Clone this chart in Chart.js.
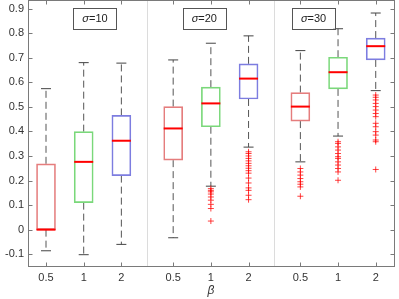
<!DOCTYPE html>
<html>
<head>
<meta charset="utf-8">
<script src="https://cdn.jsdelivr.net/npm/chart.js@4"></script>
<style>
  html, body { margin: 0; padding: 0; background: #fff; }
  #wrap { width: 399px; height: 299px; }
</style>
</head>
<body>
<div id="wrap"><canvas id="boxChart"></canvas></div>
<script>
// box positions on the x axis, three groups of beta values
const positions = [1, 2, 3, 4.375, 5.375, 6.375, 7.75, 8.75, 9.75];
const betaLabels = ['0.5', '1', '2', '0.5', '1', '2', '0.5', '1', '2'];
const sigmaLabels = ['σ=10', 'σ=20', 'σ=30'];
const sigmaLabelX = [2.3, 5.2, 8.1];
const separatorX = [3.6875, 7.0625];

const yTicks = [-0.1, 0, 0.1, 0.2, 0.3, 0.4, 0.5, 0.6, 0.7, 0.8, 0.9];
const yTickLabels = ['-0.1', '0', '0.1', '0.2', '0.3', '0.4', '0.5', '0.6', '0.7', '0.8', '0.9'];

const upperWhisker = [0.574, 0.680, 0.678, 0.691, 0.759, 0.789, 0.729, 0.818, 0.882];
const q3 = [0.268, 0.399, 0.465, 0.501, 0.580, 0.675, 0.558, 0.702, 0.780];
const medians = [0.000, 0.276, 0.362, 0.412, 0.514, 0.615, 0.501, 0.641, 0.747];
const q1 = [0.000, 0.110, 0.220, 0.283, 0.419, 0.532, 0.442, 0.573, 0.691];
const lowerWhisker = [-0.086, -0.102, -0.060, -0.033, 0.177, 0.336, 0.276, 0.381, 0.566];

const outliers = [
    [],
    [],
    [],
    [],
    [0.167, 0.160, 0.154, 0.145, 0.133, 0.120, 0.103, 0.086, 0.035],
    [0.317, 0.310, 0.300, 0.290, 0.280, 0.270, 0.260, 0.250, 0.240, 0.230, 0.210, 0.190, 0.170, 0.160, 0.140, 0.122],
    [0.249, 0.235, 0.222, 0.208, 0.195, 0.185, 0.174, 0.136],
    [0.358, 0.351, 0.337, 0.324, 0.310, 0.297, 0.290, 0.276, 0.263, 0.249, 0.235, 0.201],
    [0.548, 0.539, 0.528, 0.514, 0.501, 0.487, 0.473, 0.460, 0.433, 0.419, 0.399, 0.385, 0.365, 0.358, 0.245]
];

const boxColors = ['#e57d7d', '#7ad87a', '#7d7de0'];

const FONT = '"Liberation Sans", Arial, sans-serif';
const AXIS_COLOR = '#7a7a7a';

// whiskers: q3 -> upper, q1 -> lower, broken with nulls
const whiskerPoints = [];
positions.forEach((p, i) => {
    whiskerPoints.push({ x: p, y: q3[i] }, { x: p, y: upperWhisker[i] }, { x: p, y: null });
    whiskerPoints.push({ x: p, y: q1[i] }, { x: p, y: lowerWhisker[i] }, { x: p, y: null });
});

const capPoints = [];
positions.forEach((p, i) => {
    capPoints.push({ x: p, y: upperWhisker[i] }, { x: p, y: lowerWhisker[i] });
});

const outlierPoints = [];
positions.forEach((p, i) => {
    outliers[i].forEach(v => outlierPoints.push({ x: p, y: v }));
});

// axes box, inward ticks, group separators and sigma labels
const decorPlugin = {
    id: 'decor',
    beforeDatasetsDraw(chart) {
        const { ctx, chartArea: a, scales: { x } } = chart;
        ctx.save();
        ctx.strokeStyle = '#dcdcdc';
        ctx.lineWidth = 1;
        separatorX.forEach(v => {
            const px = Math.round(x.getPixelForValue(v)) + 0.5;
            ctx.beginPath();
            ctx.moveTo(px, a.top);
            ctx.lineTo(px, a.bottom);
            ctx.stroke();
        });
        ctx.restore();
    },
    afterDraw(chart) {
        const { ctx, chartArea: a, scales: { x, y } } = chart;
        ctx.save();
        ctx.strokeStyle = AXIS_COLOR;
        ctx.lineWidth = 1;
        const L = Math.round(a.left) + 0.5, R = Math.round(a.right) + 0.5;
        const T = Math.round(a.top) + 0.5, B = Math.round(a.bottom) + 0.5;
        ctx.strokeRect(L, T, R - L, B - T);

        const tl = 4;
        ctx.beginPath();
        yTicks.forEach(v => {
            const py = Math.round(y.getPixelForValue(v)) + 0.5;
            ctx.moveTo(L, py); ctx.lineTo(L + tl, py);
            ctx.moveTo(R, py); ctx.lineTo(R - tl, py);
        });
        positions.forEach(v => {
            const px = Math.round(x.getPixelForValue(v)) + 0.5;
            ctx.moveTo(px, B); ctx.lineTo(px, B - tl);
            ctx.moveTo(px, T); ctx.lineTo(px, T + tl);
        });
        ctx.stroke();

        // sigma text boxes
        sigmaLabels.forEach((label, i) => {
            const cx = x.getPixelForValue(sigmaLabelX[i]);
            const cy = y.getPixelForValue(0.861);
            const w = 43, h = 21;
            ctx.fillStyle = '#fff';
            ctx.fillRect(cx - w / 2, cy - h / 2, w, h);
            ctx.strokeStyle = '#555';
            ctx.strokeRect(Math.round(cx - w / 2) + 0.5, Math.round(cy - h / 2) + 0.5, w, h);
            const sym = label.slice(0, 1);
            const rest = label.slice(1);
            ctx.fillStyle = '#222';
            ctx.textBaseline = 'middle';
            ctx.font = 'italic 11px ' + FONT;
            const w1 = ctx.measureText(sym).width;
            ctx.font = '11px ' + FONT;
            const w2 = ctx.measureText(rest).width;
            const sx = cx - (w1 + w2) / 2;
            ctx.font = 'italic 11px ' + FONT;
            ctx.textAlign = 'left';
            ctx.fillText(sym, sx, cy + 0.5);
            ctx.font = '11px ' + FONT;
            ctx.fillText(rest, sx + w1, cy + 0.5);
        });
        ctx.restore();
    }
};

const ctx = document.getElementById('boxChart').getContext('2d');

new Chart(ctx, {
    type: 'bar',
    data: {
        datasets: [
            {
                type: 'line',
                label: 'whiskers',
                data: whiskerPoints,
                borderColor: '#555',
                borderWidth: 1,
                borderDash: [7, 4],
                pointRadius: 0,
                spanGaps: false,
                order: 5
            },
            {
                type: 'bar',
                label: 'boxes',
                data: positions.map((p, i) => ({ x: p, y: [q1[i], q3[i]] })),
                backgroundColor: 'rgba(255,255,255,0)',
                borderColor: positions.map((p, i) => boxColors[i % 3]),
                borderWidth: 1,
                borderSkipped: false,
                barThickness: 19,
                grouped: false,
                order: 4
            },
            {
                type: 'scatter',
                label: 'caps',
                data: capPoints,
                pointStyle: 'line',
                pointRadius: 5,
                pointBorderColor: '#444',
                pointBorderWidth: 1,
                order: 3
            },
            {
                type: 'scatter',
                label: 'medians',
                data: positions.map((p, i) => ({ x: p, y: medians[i] })),
                pointStyle: 'line',
                pointRadius: 9.5,
                pointBorderColor: '#ff0000',
                pointBorderWidth: 2,
                order: 2
            },
            {
                type: 'scatter',
                label: 'outliers',
                data: outlierPoints,
                pointStyle: 'cross',
                pointRadius: 3,
                pointBorderColor: 'rgba(255,0,0,0.75)',
                pointBorderWidth: 1,
                order: 1
            }
        ]
    },
    options: {
        responsive: true,
        maintainAspectRatio: false,
        animation: false,
        layout: { autoPadding: false, padding: { top: 0, right: 5, left: 0, bottom: 0 } },
        plugins: {
            legend: { display: false },
            tooltip: { enabled: false }
        },
        scales: {
            x: {
                type: 'linear',
                min: 0.522,
                max: 10.235,
                offset: false,
                grid: { display: false, drawTicks: false },
                border: { display: false },
                afterBuildTicks: (axis) => {
                    axis.ticks = positions.map(v => ({ value: v }));
                },
                afterFit: (axis) => {
                    axis.height = 33;
                    axis.paddingLeft = 0;
                    axis.paddingRight = 0;
                },
                ticks: {
                    autoSkip: false,
                    maxRotation: 0,
                    padding: 5,
                    color: '#333',
                    font: { family: FONT, size: 11 },
                    callback: (value, index) => betaLabels[index]
                },
                title: {
                    display: true,
                    text: 'β',
                    color: '#333',
                    padding: { top: 0, bottom: 1 },
                    font: { family: FONT, size: 12, style: 'italic' }
                }
            },
            y: {
                type: 'linear',
                min: -0.148,
                max: 0.935,
                grid: { display: false, drawTicks: false },
                border: { display: false },
                afterBuildTicks: (axis) => {
                    axis.ticks = yTicks.map(v => ({ value: v }));
                },
                afterFit: (axis) => {
                    axis.width = 28;
                    axis.paddingTop = 0;
                    axis.paddingBottom = 0;
                },
                ticks: {
                    padding: 4,
                    color: '#333',
                    font: { family: FONT, size: 11 },
                    callback: (value, index) => yTickLabels[index]
                }
            }
        }
    },
    plugins: [decorPlugin]
});
</script>
</body>
</html>
